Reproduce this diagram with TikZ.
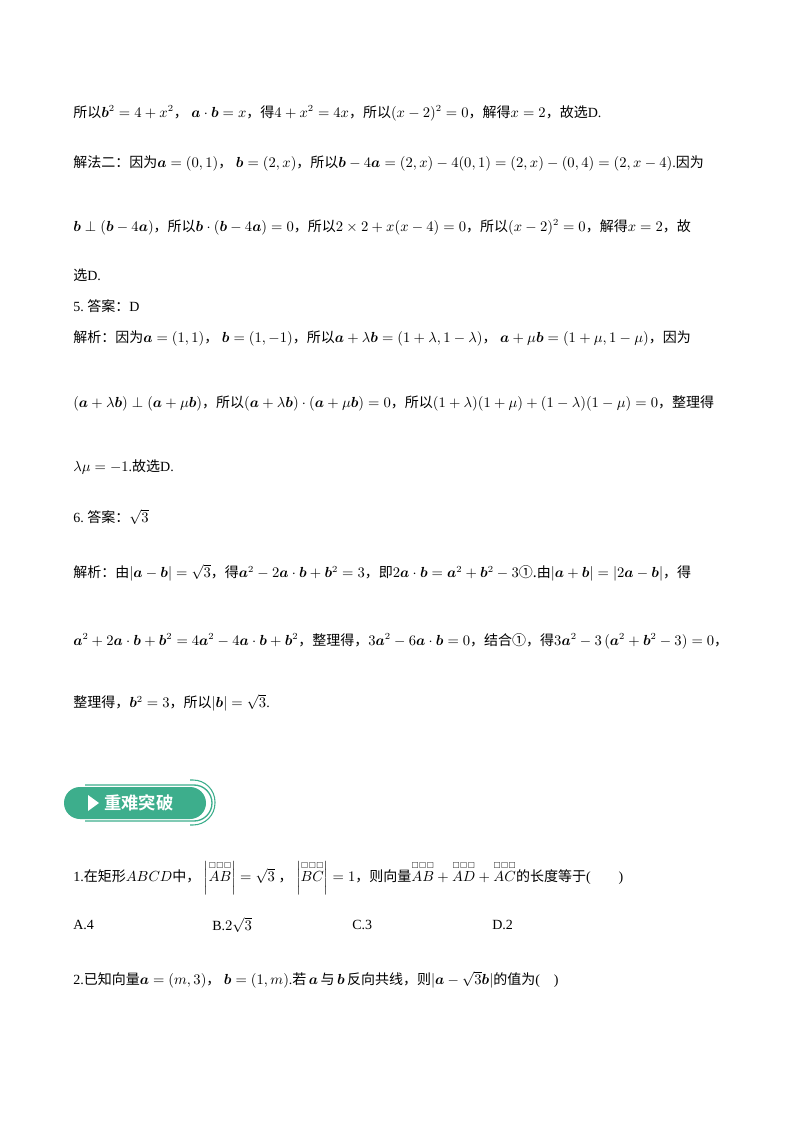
\documentclass[tikz,border=0pt]{standalone}
\usepackage{amsmath,amssymb,bm}
\usepackage{fontspec}
\setmainfont{Liberation Serif}
\newfontfamily\cjk{Noto Sans CJK SC}
\newfontfamily\cjkb{Noto Sans CJK SC Bold}
\newcommand{\zh}[1]{{\cjk #1}}
\newcommand{\va}{\bm{a}}
\newcommand{\vb}{\bm{b}}
\newcommand{\bx}{\overset{\scriptscriptstyle\square\square\square}}
\definecolor{gr}{HTML}{3DAE8C}
\begin{document}
\begin{tikzpicture}[x=0.75pt,y=-0.75pt,
  t/.style={anchor=west,inner sep=0pt,font=\fontsize{10.5pt}{12pt}\selectfont}]
\useasboundingbox (0,0) rectangle (800,1132);
\fill[white] (0,0) rectangle (800,1132);
\node[t] (l1) at (73,113) {\zh{所以}$\vb^2=4+x^2$\zh{，}\ $\va\cdot\vb=x$\zh{，得}$4+x^2=4x$\zh{，所以}$(x-2)^2=0$\zh{，解得}$x=2$\zh{，故选}D.};
\node[t] (l2) at (73,163) {\zh{解法二：因为}$\va=(0,1)$\zh{，}\ $\vb=(2,x)$\zh{，所以}$\vb-4\va=(2,x)-4(0,1)=(2,x)-(0,4)=(2,x-4)$.\zh{因为}};
\node[t] (l3) at (73,227) {$\vb\perp(\vb-4\va)$\zh{，所以}$\vb\cdot(\vb-4\va)=0$\zh{，所以}$2\times2+x(x-4)=0$\zh{，所以}$(x-2)^2=0$\zh{，解得}$x=2$\zh{，故}};
\node[t] (l4) at (73,275) {\zh{选}D.};
\node[t] (l5) at (73,306) {5.\ \zh{答案：}D};
\node[t] (l6) at (73,338) {\zh{解析：因为}$\va=(1,1)$\zh{，}\ $\vb=(1,-1)$\zh{，所以}$\va+\lambda\vb=(1+\lambda,1-\lambda)$\zh{，}\ $\va+\mu\vb=(1+\mu,1-\mu)$\zh{，因为}};
\node[t] (l7) at (73,403) {$(\va+\lambda\vb)\perp(\va+\mu\vb)$\zh{，所以}$(\va+\lambda\vb)\cdot(\va+\mu\vb)=0$\zh{，所以}$(1+\lambda)(1+\mu)+(1-\lambda)(1-\mu)=0$\zh{，整理得}};
\node[t] (l8) at (73,467) {$\lambda\mu=-1$.\zh{故选}D.};
\node[t] (l9) at (73,517) {6.\ \zh{答案：}$\sqrt3$};
\node[t] (l10) at (73,573) {\zh{解析：由}$|\va-\vb|=\sqrt3$\zh{，得}$\va^2-2\va\cdot\vb+\vb^2=3$\zh{，即}$2\va\cdot\vb=\va^2+\vb^2-3$\zh{①.由}$|\va+\vb|=|2\va-\vb|$\zh{，得}};
\node[t] (l11) at (73,641) {$\va^2+2\va\cdot\vb+\vb^2=4\va^2-4\va\cdot\vb+\vb^2$\zh{，整理得，}$3\va^2-6\va\cdot\vb=0$\zh{，结合①，得}$3\va^2-3\left(\va^2+\vb^2-3\right)=0$\zh{，}};
\node[t] (l12) at (73,703) {\zh{整理得，}$\vb^2=3$\zh{，所以}$|\vb|=\sqrt3$.};
% badge
\draw[gr,line width=1pt,rounded corners=13.5pt] (85,785) -- (212,785) -- (212,821) -- (85,821);
\draw[gr,line width=0.8pt,rounded corners=16.5pt] (190,780) -- (215,780) -- (215,825) -- (190,825);
\fill[gr,rounded corners=12pt] (64,787) rectangle (206,819);
\fill[white] (88,795) -- (99,803) -- (88,811) -- cycle;
\node[anchor=west,inner sep=0pt,text=white,font=\cjkb\fontsize{13pt}{14pt}\selectfont] (badge) at (104,803) {重难突破};
\node[t] (q1) at (73,878) {1.\zh{在矩形}$ABCD$\zh{中，}\ $\left|\bx{AB}\right|=\sqrt3$\ \zh{，}\ $\left|\bx{BC}\right|=1$\zh{，则向量}$\bx{AB}+\bx{AD}+\bx{AC}$\zh{的长度等于}(\qquad)};
\node[t] (a1) at (73,925) {A.4};
\node[t] (b1) at (212,925) {B.$2\sqrt3$};
\node[t] (c1) at (352,925) {C.3};
\node[t] (d1) at (492,925) {D.2};
\node[t] (q2) at (73,980) {2.\zh{已知向量}$\va=(m,3)$\zh{，}\ $\vb=(1,m)$.\zh{若}$\,\va\,$\zh{与}$\,\vb\,$\zh{反向共线，则}$|\va-\sqrt3\vb|$\zh{的值为}(\quad)};
\end{tikzpicture}
\end{document}
